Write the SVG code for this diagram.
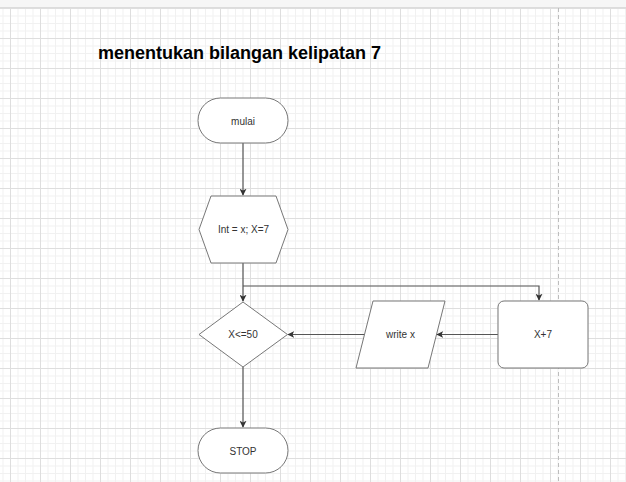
<svg xmlns="http://www.w3.org/2000/svg" width="626" height="482" viewBox="0 0 626 482">
<style>
.shape{fill:#fff;stroke:#777;stroke-width:1;stroke-linejoin:round}
.lbl{font-family:"Liberation Sans",Arial,sans-serif;font-size:10px;fill:#333;text-anchor:middle;dominant-baseline:central}
.edge{fill:none;stroke:#555;stroke-width:1.2}
</style>
<defs>
<pattern id="grid" x="10" y="8" width="30" height="30" patternUnits="userSpaceOnUse">
<rect x="7.5" y="0" width="1" height="30" fill="#f1f1f1"/>
<rect x="15" y="0" width="1" height="30" fill="#f1f1f1"/>
<rect x="22.5" y="0" width="1" height="30" fill="#f1f1f1"/>
<rect x="0" y="7.5" width="30" height="1" fill="#f1f1f1"/>
<rect x="0" y="15" width="30" height="1" fill="#f1f1f1"/>
<rect x="0" y="22.5" width="30" height="1" fill="#f1f1f1"/>
<rect x="0" y="0" width="1" height="30" fill="#dedede"/>
<rect x="0" y="0" width="30" height="1" fill="#dedede"/>
</pattern>
<marker id="arr" viewBox="0 0 10 10" refX="9" refY="5" markerWidth="7" markerHeight="7" markerUnits="userSpaceOnUse" orient="auto">
<path d="M0,0 L10,5 L0,10 L2.5,5 Z" fill="#333"/>
</marker>
</defs>
<rect width="626" height="482" fill="#fff"/>
<rect x="0" y="8" width="626" height="474" fill="url(#grid)"/>
<rect x="0" y="0" width="626" height="7" fill="#f6f6f6"/>
<rect x="0" y="7" width="626" height="1" fill="#dcdcdc"/>
<line x1="558.5" y1="8" x2="558.5" y2="482" stroke="#bdbdbd" stroke-width="1" stroke-dasharray="4,3"/>

<text x="98" y="59" font-family="'Liberation Sans',Arial,sans-serif" font-size="18" font-weight="bold" fill="#000">menentukan bilangan kelipatan 7</text>

<g id="connectors">
<path class="edge" d="M243,143 L243,195" marker-end="url(#arr)"/>
<path class="edge" d="M243,263 L243,301" marker-end="url(#arr)"/>
<path class="edge" d="M243,286 L539,286 L539,300" marker-end="url(#arr)"/>
<path class="edge" d="M498,334.5 L437,334.5" marker-end="url(#arr)"/>
<path class="edge" d="M364,334.5 L288,334.5" marker-end="url(#arr)"/>
<path class="edge" d="M243,367 L243,427" marker-end="url(#arr)"/>
</g>

<g id="mulai">
<rect class="shape" x="198" y="98" width="90" height="45" rx="22.5"/>
<text class="lbl" x="243" y="121">mulai</text>
</g>
<g id="init">
<polygon class="shape" points="199,229.5 211,196 276,196 288,229.5 276,263 211,263"/>
<text class="lbl" x="243.5" y="229.5">Int = x; X=7</text>
</g>
<g id="cond">
<polygon class="shape" points="243,302 287.5,334.5 243,367 199,334.5"/>
<text class="lbl" x="243" y="334.5">X&lt;=50</text>
</g>
<g id="stop">
<rect class="shape" x="198" y="428" width="90" height="45" rx="22.5"/>
<text class="lbl" x="243" y="451">STOP</text>
</g>
<g id="write">
<polygon class="shape" points="373,301 445,301 428,368 356,368"/>
<text class="lbl" x="400.5" y="334.5">write x</text>
</g>
<g id="inc">
<rect class="shape" x="498" y="301" width="90" height="67" rx="6"/>
<text class="lbl" x="543" y="334.5">X+7</text>
</g>
</svg>
